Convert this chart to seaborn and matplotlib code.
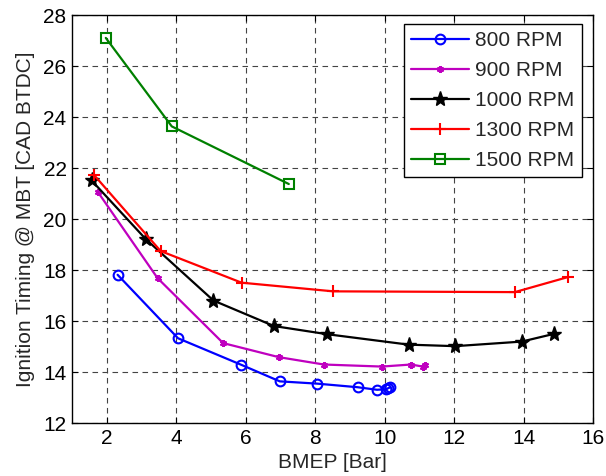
import matplotlib
matplotlib.use("Agg")
import matplotlib.pyplot as plt
import seaborn as sns
import pandas as pd
from matplotlib.lines import Line2D

sns.set_style("white")
plt.rcParams['font.family'] = ['Liberation Sans', 'DejaVu Sans']

labels = ["800 RPM", "900 RPM", "1000 RPM", "1300 RPM", "1500 RPM"]

bmep_800 = [2.31, 4.05, 5.87, 6.98, 8.06, 9.22, 9.78, 10.05, 10.1, 10.15]
mbt_800 = [17.82, 15.33, 14.29, 13.64, 13.55, 13.41, 13.31, 13.33, 13.37, 13.40]

bmep_900 = [1.75, 3.46, 5.35, 6.95, 8.25, 9.92, 10.76, 11.1, 11.17]
mbt_900 = [21.05, 17.69, 15.14, 14.59, 14.30, 14.22, 14.30, 14.22, 14.28]

bmep_1000 = [1.56, 3.12, 5.07, 6.81, 8.34, 10.69, 12.03, 13.95, 14.87]
mbt_1000 = [21.52, 19.22, 16.81, 15.81, 15.49, 15.08, 15.02, 15.20, 15.50]

bmep_1300 = [1.64, 3.55, 5.88, 8.52, 13.75, 15.28]
mbt_1300 = [21.72, 18.75, 17.51, 17.17, 17.14, 17.73]

bmep_1500 = [1.97, 3.87, 7.24]
mbt_1500 = [27.11, 23.64, 21.38]

series = [
    (bmep_800, mbt_800),
    (bmep_900, mbt_900),
    (bmep_1000, mbt_1000),
    (bmep_1300, mbt_1300),
    (bmep_1500, mbt_1500),
]
colors = ["#0000ff", "#bf00bf", "#000000", "#ff0000", "#008000"]
markers = ["o", (6, 2, 0), "*", "+", "s"]
msizes = [7, 5, 11, 9, 7]
mfcs = ["none", "none", "#000000", "none", "none"]
mews = [1.5, 1.5, 1.0, 1.5, 1.5]

FS = 15

fig = plt.figure(figsize=(6.06, 4.76), dpi=100)
ax = fig.add_axes([0.119, 0.111, 0.9785 - 0.119, 0.968 - 0.111])

handles = []
for (xs, ys), lab, c, m, ms, fc, mew in zip(series, labels, colors, markers, msizes, mfcs, mews):
    df = pd.DataFrame({"x": xs, "y": ys})
    sns.lineplot(data=df, x="x", y="y", sort=False, estimator=None, ax=ax,
                 color=c, marker=m, markersize=ms, markerfacecolor=fc,
                 markeredgecolor=c, markeredgewidth=mew, linewidth=1.6,
                 legend=False)
    handles.append(Line2D([], [], color=c, marker=m, markersize=ms,
                          markerfacecolor=fc, markeredgecolor=c,
                          markeredgewidth=mew, linewidth=1.6, label=lab))

ax.set_xlim(1, 16)
ax.set_ylim(12, 28)
ax.set_xticks(range(2, 17, 2))
ax.set_yticks(range(12, 29, 2))
ax.grid(True, color="#444444", linestyle=(0, (5, 4)), linewidth=0.8)
ax.tick_params(direction="in", length=4, width=0.8, labelsize=FS,
               top=True, right=True, bottom=True, left=True, colors="black", pad=4)
for s in ax.spines.values():
    s.set_color("black")
    s.set_linewidth(1.0)

ax.set_xlabel("BMEP [Bar]", fontsize=FS, labelpad=4)
ax.set_ylabel("Ignition Timing @ MBT [CAD BTDC]", fontsize=FS, labelpad=6)

leg = ax.legend(handles=handles, loc="upper right", bbox_to_anchor=(0.979, 0.978),
                borderaxespad=0, fontsize=FS, frameon=True, fancybox=False,
                edgecolor="black", framealpha=1, handlelength=2.8,
                handletextpad=0.3, labelspacing=0.52, borderpad=0.35)
leg.get_frame().set_linewidth(1.0)

fig.savefig("out.png", dpi=100)
